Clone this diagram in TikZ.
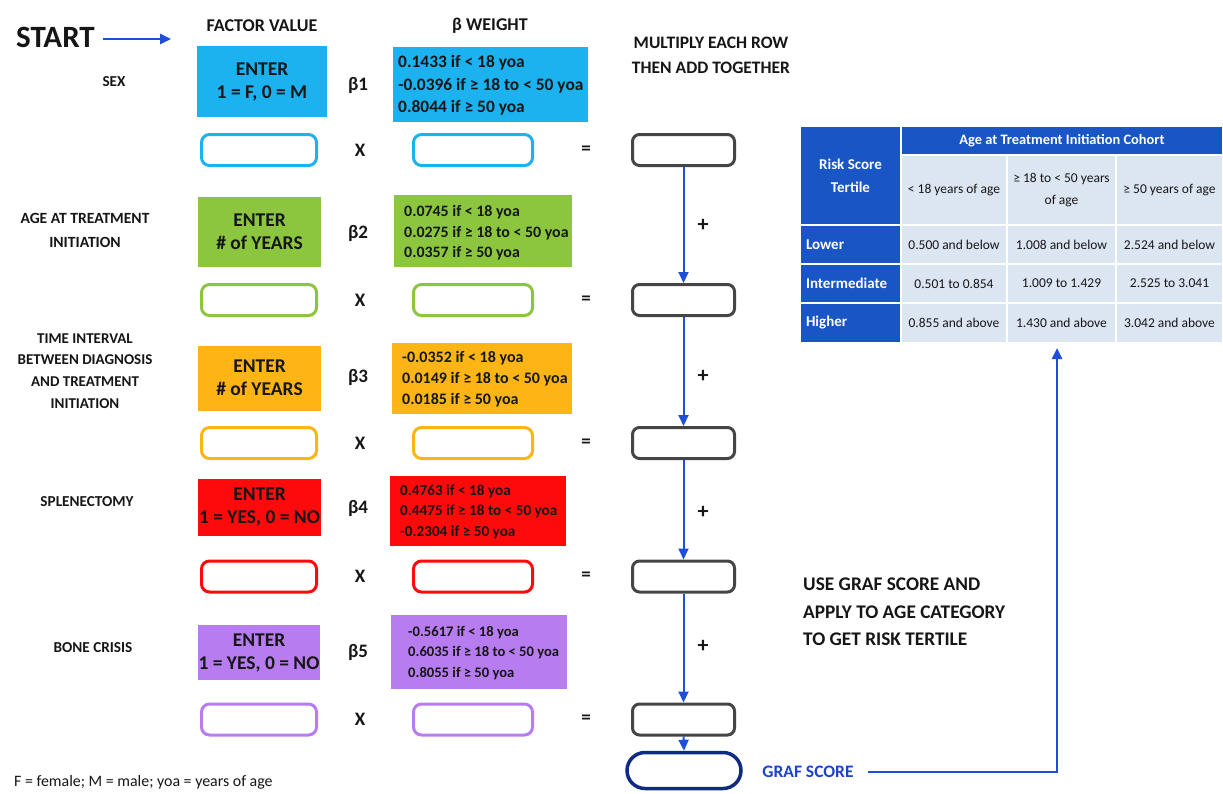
\documentclass[tikz,border=0pt]{standalone}
\usepackage{fontspec}
\setmainfont{Carlito}
\usetikzlibrary{arrows.meta}
\definecolor{cyanc}{HTML}{1BB2EF}
\definecolor{greenc}{HTML}{8CC63F}
\definecolor{orangec}{HTML}{FDB515}
\definecolor{redc}{HTML}{FF0A0A}
\definecolor{purplec}{HTML}{B77DF0}
\definecolor{grayc}{HTML}{454545}
\definecolor{arrowc}{HTML}{1E4FD8}
\definecolor{navyc}{HTML}{102B85}
\definecolor{gtext}{HTML}{1A45C8}
\definecolor{tblue}{HTML}{1A55C6}
\definecolor{tcell}{HTML}{DCE5F2}
\definecolor{ink}{HTML}{161616}
\tikzset{
  lab/.style={font=\fontsize{15.2}{22}\selectfont\bfseries, align=center, text=ink, inner sep=0pt},
  colhead/.style={font=\fontsize{18}{22}\selectfont\bfseries, text=ink, inner sep=0pt},
  opsym/.style={font=\fontsize{19}{22}\selectfont\bfseries, text=ink, inner sep=0pt},
  enterbox/.style={fill=#1, align=center, text=ink, inner sep=0pt,
    font=\fontsize{19.5}{23}\selectfont\bfseries},
  betabox/.style={fill=#1, inner sep=0pt},
  betatext/.style={anchor=west, align=left, text=ink, inner sep=0pt},
  inbox/.style={draw=#1, line width=3pt, rounded corners=8pt, fill=white, inner sep=0pt,
    minimum height=31pt},
  sumbox/.style={draw=grayc, line width=3pt, rounded corners=7pt, inner sep=0pt,
    minimum width=102pt, minimum height=31pt},
  flow/.style={draw=arrowc, line width=2pt, -{Triangle[length=11pt,width=10pt]}},
  hcell/.style={fill=tblue, draw=white, line width=2.5pt, text=white, inner sep=0pt,
    font=\fontsize{15}{23}\selectfont\bfseries, align=center},
  vcell/.style={fill=tcell, draw=white, line width=2.5pt, text=ink, inner sep=0pt,
    font=\fontsize{13.5}{22}\selectfont, align=center},
}
\begin{document}
\begin{tikzpicture}[x=1pt,y=-1pt]
\useasboundingbox[fill=white] (0,0) rectangle (1223,793);

% headers
\node[font=\fontsize{31}{34}\selectfont\bfseries, text=ink, inner sep=0pt, anchor=west] (start) at (16,37) {START};
\coordinate (starttip) at (171,39);
\draw[flow, line width=2.5pt] ([xshift=8pt]start.east |- starttip) -- (starttip);
\node[colhead] (fv) at (262,26) {FACTOR VALUE};
\node[colhead] (bw) at (490,26) {β WEIGHT};
\node[colhead, align=center, font=\fontsize{17.5}{25}\selectfont\bfseries] (mult) at (711,55) {MULTIPLY EACH ROW\\THEN ADD TOGETHER};

% row labels
\node[lab] (l1) at (114,82) {SEX};
\node[lab, font=\fontsize{15.6}{24}\selectfont\bfseries] (l2) at (85,230) {AGE AT TREATMENT\\INITIATION};
\node[lab, font=\fontsize{15}{21.7}\selectfont\bfseries] (l3) at (85,371) {TIME INTERVAL\\BETWEEN DIAGNOSIS\\AND TREATMENT\\INITIATION};
\node[lab] (l4) at (87,502) {SPLENECTOMY};
\node[lab] (l5) at (93,648) {BONE CRISIS};

% enter boxes
\node[enterbox=cyanc, minimum width=130pt, minimum height=71pt] (e1) at (262,81.5) {ENTER\\1 = F, 0 = M};
\node[enterbox=greenc, minimum width=123pt, minimum height=70pt] (e2) at (259.5,232) {ENTER\\\# of YEARS};
\node[enterbox=orangec, minimum width=123pt, minimum height=65pt] (e3) at (259.5,378) {ENTER\\\# of YEARS};
\node[enterbox=redc, minimum width=123pt, minimum height=57pt] (e4) at (259.5,507) {ENTER\\1 = YES, 0 = NO};
\node[enterbox=purplec, minimum width=122pt, minimum height=55pt] (e5) at (259,652.5) {ENTER\\1 = YES, 0 = NO};

% beta labels
\node[opsym] (bl1) at (358,85) {β1};
\node[opsym] (bl2) at (358,233) {β2};
\node[opsym] (bl3) at (358,377) {β3};
\node[opsym] (bl4) at (358,508) {β4};
\node[opsym] (bl5) at (358,652) {β5};

% beta boxes
\node[betabox=cyanc, minimum width=195pt, minimum height=75pt] (b1) at (490.5,84.5) {};
\node[betatext, font=\fontsize{17.4}{22.5}\selectfont\bfseries] (b1t) at (398,85.5)
  {0.1433 if < 18 yoa\\-0.0396 if ≥ 18 to < 50 yoa\\0.8044 if ≥ 50 yoa};
\node[betabox=greenc, minimum width=178pt, minimum height=72pt] (b2) at (483,231) {};
\node[betatext, font=\fontsize{15.9}{20.5}\selectfont\bfseries] (b2t) at (404,233)
  {0.0745 if < 18 yoa\\0.0275 if ≥ 18 to < 50 yoa\\0.0357 if ≥ 50 yoa};
\node[betabox=orangec, minimum width=180pt, minimum height=71pt] (b3) at (482,378.5) {};
\node[betatext, font=\fontsize{16}{21}\selectfont\bfseries] (b3t) at (402,379)
  {-0.0352 if < 18 yoa\\0.0149 if ≥ 18 to < 50 yoa\\0.0185 if ≥ 50 yoa};
\node[betabox=redc, minimum width=176pt, minimum height=70pt] (b4) at (478,511) {};
\node[betatext, font=\fontsize{15.2}{20.5}\selectfont\bfseries] (b4t) at (400,511.5)
  {0.4763 if < 18 yoa\\0.4475 if ≥ 18 to < 50 yoa\\-0.2304 if ≥ 50 yoa};
\node[betabox=purplec, minimum width=176pt, minimum height=74pt] (b5) at (479,652) {};
\node[betatext, font=\fontsize{14.6}{20.5}\selectfont\bfseries] (b5t) at (408,653)
  {-0.5617 if < 18 yoa\\0.6035 if ≥ 18 to < 50 yoa\\0.8055 if ≥ 50 yoa};

% input rows
\foreach \r/\y/\c in {1/150/cyanc, 2/300/greenc, 3/443/orangec, 4/576.5/redc, 5/719.5/purplec}{
  \node[inbox=\c, minimum width=115pt] (f\r) at (259,\y) {};
  \node[opsym] (x\r) at (360,\y) {X};
  \node[inbox=\c, minimum width=119pt] (w\r) at (473,\y) {};
  \node[opsym] (q\r) at (586,\y) {=};
  \node[sumbox] (g\r) at (683.5,\y) {};
}

% sum arrows
\draw[flow] (g1.south) -- (g2.north);
\draw[flow] (g2.south) -- (g3.north);
\draw[flow] (g3.south) -- (g4.north);
\draw[flow] (g4.south) -- (g5.north);
\node[opsym, font=\fontsize{22}{22}\selectfont\bfseries] (p1) at (703,225) {+};
\node[opsym, font=\fontsize{22}{22}\selectfont\bfseries] (p2) at (703,376) {+};
\node[opsym, font=\fontsize{22}{22}\selectfont\bfseries] (p3) at (703,512) {+};
\node[opsym, font=\fontsize{22}{22}\selectfont\bfseries] (p4) at (703,646) {+};

% graf score
\node[draw=navyc, line width=3.5pt, rounded corners=18pt, minimum width=114pt, minimum height=36pt, inner sep=0pt] (oval) at (684,770.5) {};
\draw[flow] (g5.south) -- (oval.north);
\node[font=\fontsize{17.5}{20}\selectfont\bfseries, text=gtext, inner sep=0pt] (gtxt) at (808,772) {GRAF SCORE};
\coordinate (tabtip) at (1057,348);
\draw[flow, line width=2.5pt] ([xshift=14pt]gtxt.east) -| (tabtip);

\node[font=\fontsize{19.3}{27.5}\selectfont\bfseries, text=ink, align=left, anchor=west, inner sep=0pt] (use) at (803,612)
  {USE GRAF SCORE AND\\APPLY TO AGE CATEGORY\\TO GET RISK TERTILE};

\node[font=\fontsize{15.9}{18}\selectfont, text=ink, anchor=west, inner sep=0pt] (foot) at (14,782)
  {F = female; M = male; yoa = years of age};

% table
\node[hcell, minimum width=322pt, minimum height=29pt, font=\fontsize{14.4}{18}\selectfont\bfseries] (tA) at (1062,140.5) {Age at Treatment Initiation Cohort};
\node[hcell, minimum width=101pt, minimum height=99pt] (tR) at (850.5,175.5) {Risk Score\\Tertile};
\node[vcell, minimum width=106pt, minimum height=70pt] (c11) at (954,190) {< 18 years of age};
\node[vcell, minimum width=109pt, minimum height=70pt] (c12) at (1061.5,190) {≥ 18 to < 50 years\\of age};
\node[vcell, minimum width=107pt, minimum height=70pt] (c13) at (1169.5,190) {≥ 50 years of age};
\foreach \r/\y/\h/\lab/\a/\b/\cc in {
  2/244.5/39/Lower/0.500 and below/1.008 and below/2.524 and below,
  3/283.5/39/Intermediate/0.501 to 0.854/1.009 to 1.429/2.525 to 3.041,
  4/323/40/Higher/0.855 and above/1.430 and above/3.042 and above}{
  \node[hcell, minimum width=101pt, minimum height=\h pt, align=left, text width=89pt, inner xsep=6pt] (r\r) at (850.5,\y) {\lab};
  \node[vcell, minimum width=106pt, minimum height=\h pt] (c\r1) at (954,\y) {\a};
  \node[vcell, minimum width=109pt, minimum height=\h pt] (c\r2) at (1061.5,\y) {\b};
  \node[vcell, minimum width=107pt, minimum height=\h pt] (c\r3) at (1169.5,\y) {\cc};
}
\end{tikzpicture}
\end{document}
